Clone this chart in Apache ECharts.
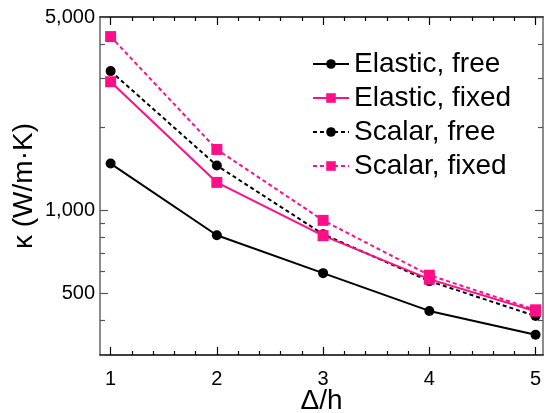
<!DOCTYPE html>
<html>
<head>
<meta charset="utf-8">
<script src="https://cdn.jsdelivr.net/npm/echarts@6/dist/echarts.min.js"></script>
<style>
  html, body { margin: 0; padding: 0; background: #fff; }
  #container { width: 545px; height: 413px; }
</style>
</head>
<body>
<div id="container"></div>
<script>
const xValues = [1, 2, 3, 4, 5];
const elasticFree = [1476, 813, 593, 433, 355];
const elasticFixed = [2917, 1262, 810, 564, 432];
const scalarFree = [3187, 1452, 820, 555, 415];
const scalarFixed = [4248, 1660, 920, 583, 437];

const xMajor = [1, 2, 3, 4, 5];
const xMinor = [1.2, 1.4, 1.6, 1.8, 2.2, 2.4, 2.6, 2.8, 3.2, 3.4, 3.6, 3.8, 4.2, 4.4, 4.6, 4.8];
const yMajor = [500, 1000, 5000];
const yMinor = [300, 400, 600, 700, 800, 900, 2000, 3000, 4000];

const pink = '#ff0f87';
const font = 'Liberation Sans, Arial, sans-serif';

const dom = document.getElementById('container');
const myChart = echarts.init(dom, null, { renderer: 'canvas' });

const pairs = vals => xValues.map((x, i) => [x, vals[i]]);

const xAxisBase = (position, ticks, len, showLine, showLabel) => ({
  type: 'value',
  position: position,
  min: 0.9,
  max: 5.07,
  splitLine: { show: false },
  axisLine: { show: showLine, lineStyle: { color: '#000', width: 1.5 } },
  axisTick: { show: true, inside: true, length: len, customValues: ticks, lineStyle: { color: '#000', width: 1.2 } },
  axisLabel: showLabel ? {
    show: true, customValues: xMajor, margin: 14,
    fontSize: 20, color: '#000', fontFamily: font
  } : { show: false }
});

const yAxisBase = (position, ticks, len, showLine, showLabel) => ({
  type: 'log',
  logBase: 10,
  position: position,
  min: 300,
  max: 5000,
  splitLine: { show: false },
  axisLine: { show: showLine, lineStyle: { color: '#666', width: 1.5 } },
  axisTick: { show: true, inside: true, length: len, customValues: ticks, lineStyle: { color: '#555', width: 1.2 } },
  axisLabel: showLabel ? {
    show: true, customValues: yMajor, margin: 5,
    fontSize: 20, color: '#000', fontFamily: font,
    formatter: v => Number(v).toLocaleString('en-US')
  } : { show: false }
});

const xAxes = [
  Object.assign(xAxisBase('bottom', xMajor, 8, true, true), {
    name: 'Δ/h', nameLocation: 'middle', nameGap: 32, nameMoveOverlap: false,
    nameTextStyle: { fontSize: 28, color: '#000', fontFamily: font }
  }),
  xAxisBase('bottom', xMinor, 4, false, false),
  xAxisBase('top', xMajor, 8, true, false),
  xAxisBase('top', xMinor, 4, false, false)
];

const yAxes = [
  Object.assign(yAxisBase('left', yMajor, 8, true, true), {
    name: 'κ (W/m·K)', nameLocation: 'middle', nameGap: 62, nameRotate: 90, nameMoveOverlap: false,
    nameTextStyle: { fontSize: 28, color: '#000', fontFamily: font }
  }),
  yAxisBase('left', yMinor, 5, false, false),
  yAxisBase('right', yMajor, 8, true, false),
  yAxisBase('right', yMinor, 5, false, false)
];

const makeSeries = (name, vals, color, dashed, symbol, z) => ({
  name: name,
  type: 'line',
  data: pairs(vals),
  symbol: symbol,
  symbolSize: symbol === 'rect' ? 11 : 10,
  showSymbol: true,
  z: z,
  itemStyle: { color: color },
  lineStyle: { color: color, width: 2, type: dashed ? [4, 3] : 'solid' },
  emphasis: { disabled: true },
  animation: false
});

const option = {
  animation: false,
  backgroundColor: '#fff',
  grid: { left: 100, right: 2, top: 17, bottom: 58, containLabel: false, outerBoundsMode: 'none' },
  legend: {
    data: ['Elastic, free', 'Elastic, fixed', 'Scalar, free', 'Scalar, fixed'],
    orient: 'vertical',
    left: 307,
    top: 45,
    itemWidth: 36,
    itemHeight: 12,
    itemGap: 6,
    textStyle: { fontSize: 28, color: '#000', fontFamily: font }
  },
  xAxis: xAxes,
  yAxis: yAxes,
  series: [
    makeSeries('Elastic, free', elasticFree, '#000', false, 'circle', 2),
    makeSeries('Scalar, free', scalarFree, '#000', true, 'circle', 3),
    makeSeries('Elastic, fixed', elasticFixed, pink, false, 'rect', 4),
    makeSeries('Scalar, fixed', scalarFixed, pink, true, 'rect', 5)
  ]
};

myChart.setOption(option);
</script>
</body>
</html>
